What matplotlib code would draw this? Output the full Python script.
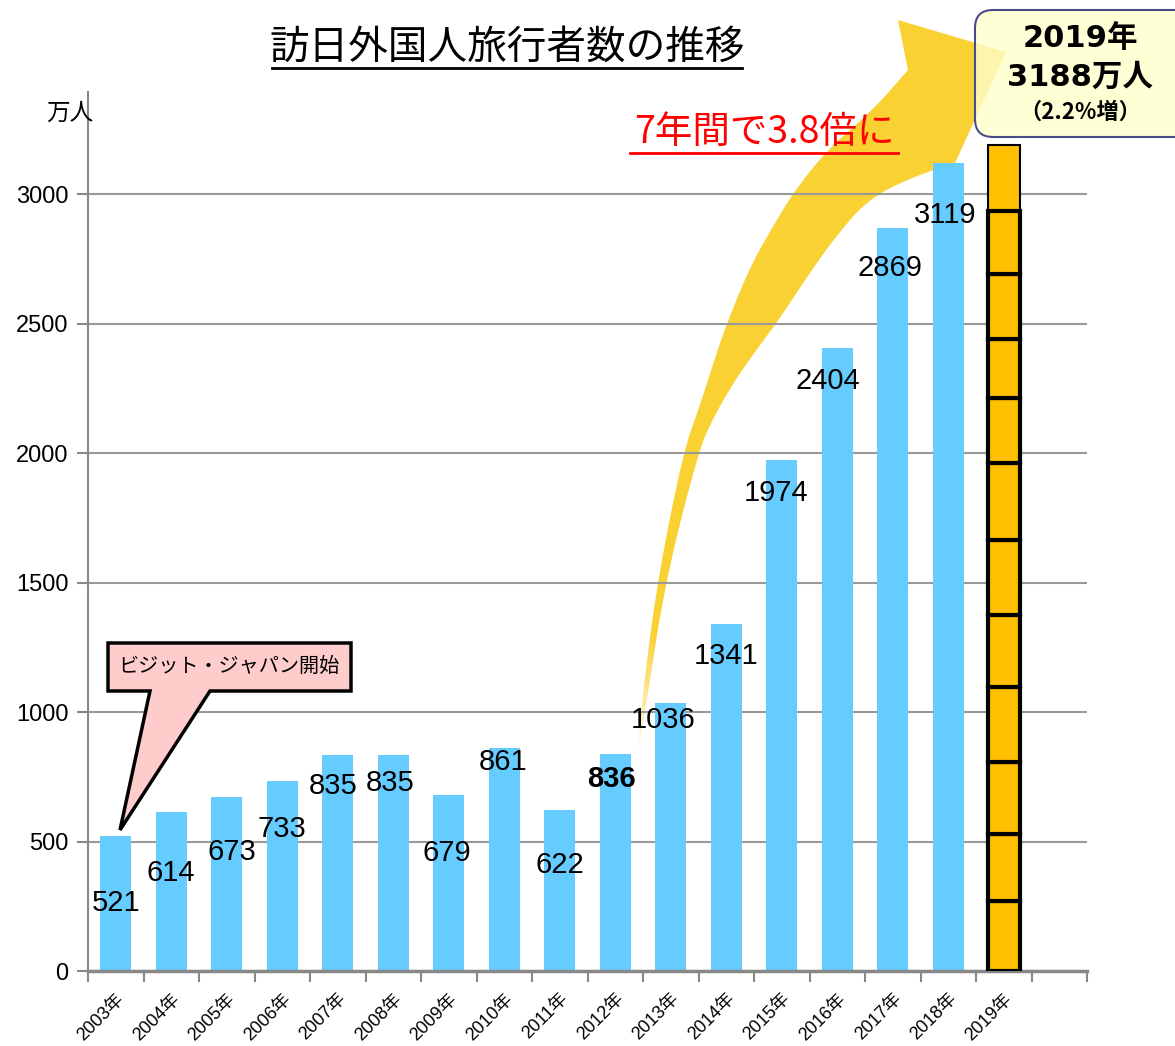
import numpy as np
import matplotlib
matplotlib.use("Agg")
import matplotlib.pyplot as plt
from matplotlib.patches import Polygon, FancyBboxPatch
from matplotlib.lines import Line2D
from matplotlib.transforms import Affine2D, ScaledTranslation

plt.rcParams['font.family'] = ['Liberation Sans', 'Noto Sans CJK JP']

# data (万人)
years = ['2003年', '2004年', '2005年', '2006年', '2007年', '2008年', '2009年',
         '2010年', '2011年', '2012年', '2013年', '2014年', '2015年', '2016年',
         '2017年', '2018年', '2019年']
visitors = [521, 614, 673, 733, 835, 835, 679, 861, 622, 836, 1036, 1341,
            1974, 2404, 2869, 3119]
monthly_2019 = [268.9, 260.4, 276.0, 292.7, 277.3, 288.0, 299.1, 252.0,
                227.3, 249.7, 244.1, 252.6]

# where the value labels sit (layout only)
label_y = [263, 378, 459, 548, 714, 726, 456, 807, 409, 741, 969, 1216,
           1846, 2278, 2714, 2919]
label_dx = [0, 0, 0.09, 0, -0.09, -0.06, -0.04, -0.03, 0, -0.06, -0.13, 0,
            -0.11, -0.17, -0.05, -0.05]


def smooth(pts, n=3):
    # chaikin corner cutting, keeps the end points
    p = np.array(pts, float)
    for _ in range(n):
        q = 0.75 * p[:-1] + 0.25 * p[1:]
        r = 0.25 * p[:-1] + 0.75 * p[1:]
        mid = np.empty((2 * len(q), 2))
        mid[0::2], mid[1::2] = q, r
        p = np.vstack([p[:1], mid, p[-1:]])
    return p


W, H = 1175, 1046
fig = plt.figure(figsize=(W / 100, H / 100), dpi=100)

# background layer in pixel coords for the big arrow
bg = fig.add_axes([0, 0, 1, 1], zorder=0)
bg.axis('off')

ax = fig.add_axes([88 / W, 1 - 971 / H, 999 / W, 879 / H], zorder=1)
ax.patch.set_alpha(0)
pix = Affine2D().scale(1 / W, -1 / H).translate(0, 1) + fig.transFigure

x = np.arange(len(visitors))
ax.bar(x, visitors, width=0.55, color='#66CCFF', zorder=2)

bottom = 0
for i, m in enumerate(monthly_2019):
    last = i == len(monthly_2019) - 1
    ax.bar(len(visitors), m, bottom=bottom, width=0.57, color='#FFC000',
           edgecolor='black', linewidth=1.5 if last else 3,
           zorder=2.5 if last else 3)
    bottom += m

for i, v in enumerate(visitors):
    ax.text(i + label_dx[i], label_y[i], str(v), ha='center', va='center',
            fontsize=21, fontweight='bold' if years[i] == '2012年' else 'normal',
            zorder=5)

ax.set_xlim(-0.5, 17.5)
ax.set_ylim(0, 3394)
ax.set_yticks(range(0, 3001, 500))
ax.yaxis.grid(True, color='#999999', linewidth=1.5)
ax.set_axisbelow(True)
for s in ['top', 'right']:
    ax.spines[s].set_visible(False)
ax.spines['left'].set_color('#888888')
ax.spines['left'].set_linewidth(1.5)
ax.spines['bottom'].set_color('#888888')
ax.spines['bottom'].set_linewidth(2.5)
ax.tick_params(axis='y', length=8, width=1.5, color='#888888', labelsize=17, pad=6)

ax.set_xticks(np.arange(len(years)))
ax.set_xticklabels(years, rotation=45, ha='right', rotation_mode='anchor', fontsize=13)
shift = ScaledTranslation(-13 / 100, 0, fig.dpi_scale_trans)
for lab in ax.get_xticklabels():
    lab.set_transform(lab.get_transform() + shift)
ax.set_xticks(np.arange(-0.5, 18), minor=True)
ax.tick_params(axis='x', which='major', length=0, pad=14)
ax.tick_params(axis='x', which='minor', length=8, width=1.5, color='#888888')

fig.text(70 / W, 1 - 113 / H, '万人', fontsize=17, ha='center', va='center',
         family=['Noto Sans CJK JP'])

# title
fig.text(507 / W, 1 - 48 / H, '訪日外国人旅行者数の推移', fontsize=28.5, ha='center',
         va='center', family=['Noto Sans CJK JP'])
fig.add_artist(Line2D([272, 742], [68, 68], color='black', lw=2, transform=pix))

# curved arrow outline (pixel coords, y down)
upper_edge = smooth([(638, 752), (642, 700), (657, 583), (683, 453), (700, 405),
                     (716, 355), (727, 323), (750, 267), (772, 228), (793, 193),
                     (827, 150), (873, 110), (908, 70)])
head_pts = np.array([(898, 20), (1006, 52), (955, 163)])
lower_edge = smooth([(955, 163), (910, 178), (867, 200), (833, 240), (805, 280),
                     (780, 318), (760, 345), (735, 380), (712, 420), (698, 453),
                     (665, 583), (647, 700), (638, 752)])
arrow = Polygon(np.vstack([upper_edge, head_pts, lower_edge[1:]]), closed=True,
                facecolor='none', edgecolor='none')
bg.add_patch(arrow)
fade = np.clip((762 - np.arange(H)) / 130, 0.15, 1.0)
grad = np.zeros((H, 1, 4))
grad[:, 0, :3] = [0.98, 0.82, 0.2]
grad[:, 0, 3] = fade
im = bg.imshow(grad, extent=(0, W, H, 0), aspect='auto', interpolation='bilinear')
im.set_clip_path(arrow)
bg.set_xlim(0, W)
bg.set_ylim(H, 0)

fig.text(764 / W, 1 - 132 / H, '7年間で3.8倍に', fontsize=27, color='#FF0000',
         ha='center', va='center', family=['Noto Sans CJK JP'])
fig.add_artist(Line2D([630, 898], [153, 153], color='#FF0000', lw=2, transform=pix))

# 2019 box
fig.add_artist(FancyBboxPatch((975, 10), 230, 127,
                              boxstyle='round,pad=0,rounding_size=18',
                              facecolor=(1, 1, 0.8, 0.8), edgecolor='#4B4B8C',
                              lw=1.5, transform=pix, zorder=6))
bold_font = ['DejaVu Sans', 'Noto Sans CJK JP']
fig.text(1080 / W, 1 - 38 / H, '2019年', fontsize=22, fontweight='bold',
         ha='center', va='center', family=bold_font, zorder=7)
fig.text(1080 / W, 1 - 77 / H, '3188万人', fontsize=22, fontweight='bold',
         ha='center', va='center', family=bold_font, zorder=7)
fig.text(1080 / W, 1 - 112 / H, '（2.2%増）', fontsize=16, fontweight='bold',
         ha='center', va='center', family=['Noto Sans CJK JP'], zorder=7)

# callout
callout = [(108, 643), (351, 643), (351, 691), (210, 691), (120, 830),
           (150, 691), (108, 691)]
fig.add_artist(Polygon(callout, closed=True, facecolor='#FFCCCC',
                       edgecolor='black', lw=2.5, transform=pix, zorder=6,
                       joinstyle='miter'))
fig.text(229 / W, 1 - 666 / H, 'ビジット・ジャパン開始', fontsize=14.5, ha='center',
         va='center', family=['Noto Sans CJK JP'], zorder=7)

fig.savefig('out.png', dpi=100)
